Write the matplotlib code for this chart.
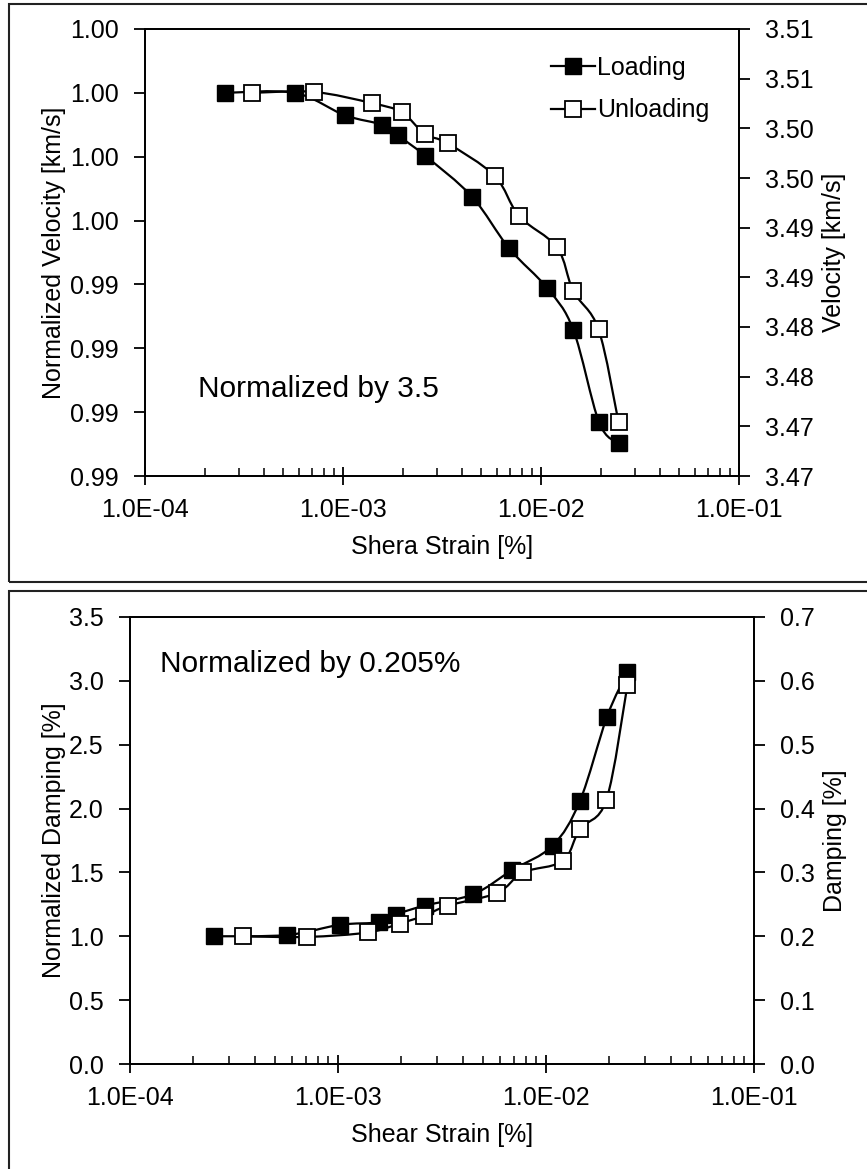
import numpy as np
import matplotlib
matplotlib.use('Agg')
import matplotlib.pyplot as plt
from matplotlib.path import Path
from matplotlib.patches import PathPatch, Rectangle
from matplotlib.lines import Line2D
from matplotlib.ticker import FixedLocator, FuncFormatter, LogLocator, NullFormatter
from decimal import Decimal, ROUND_HALF_UP

plt.rcParams['font.family'] = ['Liberation Sans', 'DejaVu Sans']

# shear strain [%]
strain_load = [2.53e-4, 5.69e-4, 1.02e-3, 1.58e-3, 1.89e-3, 2.61e-3,
               4.48e-3, 6.9e-3, 1.077e-2, 1.456e-2, 1.965e-2, 2.465e-2]
strain_unload = [3.48e-4, 7.1e-4, 1.395e-3, 1.98e-3, 2.59e-3, 3.375e-3,
                 5.83e-3, 7.75e-3, 1.205e-2, 1.456e-2, 1.953e-2, 2.465e-2]

# normalized velocity (by 3.5 km/s)
vel_load = [1.0000, 1.0000, 0.99930, 0.99900, 0.99867, 0.99802,
            0.99675, 0.99513, 0.99388, 0.99258, 0.98968, 0.98902]
vel_unload = [1.0000, 1.00003, 0.99968, 0.99939, 0.99871, 0.99842,
              0.99740, 0.99614, 0.99516, 0.99379, 0.99259, 0.98968]

# normalized damping (by 0.205 %)
damp_load = [1.00, 1.01, 1.09, 1.11, 1.17, 1.24, 1.33, 1.52, 1.71, 2.06, 2.72, 3.07]
damp_unload = [1.00, 0.995, 1.03, 1.10, 1.16, 1.24, 1.34, 1.50, 1.59, 1.84, 2.07, 2.97]

x_ticks = [1e-4, 1e-3, 1e-2, 1e-1]
vel_ticks = np.round(np.arange(0.988, 1.0021, 0.002), 4)
vel_right_ticks = np.round(np.arange(3.465, 3.5101, 0.005), 4)
damp_ticks = np.round(np.arange(0.0, 3.51, 0.5), 2)
damp_right_ticks = np.round(np.arange(0.0, 0.71, 0.1), 2)

FS = 18
W, H = 867, 1169
fig = plt.figure(figsize=(W / 100, H / 100), dpi=100)


def half_up(nd):
    q = Decimal(1).scaleb(-nd)
    return FuncFormatter(lambda v, p: str(Decimal(str(round(v, 6))).quantize(q, rounding=ROUND_HALF_UP)))


def smooth_line(ax, x, y):
    # excel-like smoothed line: catmull-rom bezier in screen space
    to_ax = ax.transScale + ax.transLimits
    bb = ax.get_position()
    sc = np.array([bb.width * W, bb.height * H])
    p = to_ax.transform(np.column_stack([x, y])) * sc
    p = np.vstack([p[0], p, p[-1]])
    verts = [p[1]]
    codes = [Path.MOVETO]
    for i in range(1, len(p) - 2):
        c1 = p[i] + (p[i + 1] - p[i - 1]) / 6
        c2 = p[i + 1] - (p[i + 2] - p[i]) / 6
        verts += [c1, c2, p[i + 1]]
        codes += [Path.CURVE4] * 3
    verts = to_ax.inverted().transform(np.array(verts) / sc)
    ax.add_patch(PathPatch(Path(verts, codes), fill=False, lw=1.6, color='k',
                           transform=ax.transData, zorder=2))


def style(ax, ax2, ticks, rticks, fmt_l, fmt_r):
    ax.set_xscale('log')
    ax.set_xlim(1e-4, 1e-1)
    ax.set_ylim(ticks[0], ticks[-1])
    ax2.set_ylim(rticks[0], rticks[-1])
    ax.xaxis.set_major_locator(FixedLocator(x_ticks))
    ax.xaxis.set_major_formatter(FuncFormatter(lambda v, p: f"{v:.1E}"))
    ax.xaxis.set_minor_locator(LogLocator(base=10, subs=np.arange(2, 10)))
    ax.xaxis.set_minor_formatter(NullFormatter())
    ax.yaxis.set_major_locator(FixedLocator(ticks))
    ax.yaxis.set_major_formatter(fmt_l)
    ax2.yaxis.set_major_locator(FixedLocator(rticks))
    ax2.yaxis.set_major_formatter(fmt_r)
    ax.tick_params(axis='x', which='major', direction='inout', length=13, width=1.3,
                   labelsize=FS, pad=9, top=False)
    ax.tick_params(axis='x', which='minor', direction='in', length=6, width=1.1, top=False)
    ax.tick_params(axis='y', direction='out', length=8, width=1.3, labelsize=FS, pad=11, right=False)
    ax2.tick_params(axis='y', direction='out', length=8, width=1.3, labelsize=FS, pad=11)
    for a in (ax, ax2):
        for s in a.spines.values():
            s.set_linewidth(1.3)


def plot_pair(ax, yl, yu):
    smooth_line(ax, strain_load, yl)
    smooth_line(ax, strain_unload, yu)
    ax.plot(strain_load, yl, ls='none', marker='s', ms=11.5, mfc='k', mec='k', zorder=3)
    ax.plot(strain_unload, yu, ls='none', marker='s', ms=11.5, mfc='white', mec='k',
            mew=1.3, zorder=3)


# ---- top panel: velocity
ax1 = fig.add_axes([145 / W, 1 - 476 / H, 594 / W, 447 / H])
ax1r = ax1.twinx()
style(ax1, ax1r, vel_ticks, vel_right_ticks, half_up(2), half_up(2))
plot_pair(ax1, vel_load, vel_unload)
ax1.set_xlabel('Shera Strain [%]', fontsize=FS)
ax1.set_ylabel('Normalized Velocity [km/s]', fontsize=FS)
ax1r.set_ylabel('Velocity [km/s]', fontsize=FS)
ax1.text(0.089, 0.195, 'Normalized by 3.5', fontsize=21.5, va='center', transform=ax1.transAxes)
hl = [Line2D([], [], color='k', lw=1.6, marker='s', ms=11.5, mfc='k', mec='k'),
      Line2D([], [], color='k', lw=1.6, marker='s', ms=11.5, mfc='white', mec='k', mew=1.3)]
ax1.legend(hl, ['Loading', 'Unloading'], loc='center', bbox_to_anchor=(0.817, 0.866),
           frameon=False, fontsize=FS, handlelength=1.75, handletextpad=0.1,
           labelspacing=0.75, borderpad=0)

# ---- bottom panel: damping
ax2 = fig.add_axes([130 / W, 1 - 1064 / H, 624 / W, 447 / H])
ax2r = ax2.twinx()
style(ax2, ax2r, damp_ticks, damp_right_ticks, half_up(1), half_up(1))
plot_pair(ax2, damp_load, damp_unload)
ax2.set_xlabel('Shear Strain [%]', fontsize=FS)
ax2.set_ylabel('Normalized Damping [%]', fontsize=FS)
ax2r.set_ylabel('Damping [%]', fontsize=FS)
ax2.text(0.048, 0.894, 'Normalized by 0.205%', fontsize=21.5, va='center', transform=ax2.transAxes)

# label positions
for a, xl in ((ax1, -0.154), (ax2, -0.1225)):
    a.xaxis.set_label_coords(0.5, -0.158)
    a.xaxis.label.set_verticalalignment('center')
    a.yaxis.set_label_coords(xl, 0.5)
    a.yaxis.label.set_verticalalignment('center')
for a, xr in ((ax1r, 1.16), (ax2r, 1.13)):
    a.yaxis.set_label_coords(xr, 0.5)
    a.yaxis.label.set_verticalalignment('center')

# chart frames
fig.add_artist(Rectangle((9 / W, 1 - 582 / H), 1.0, 578 / H, transform=fig.transFigure,
                         fill=False, lw=1.5, color='#222222'))
fig.add_artist(Rectangle((9 / W, -0.02), 1.0, 1 - 591 / H + 0.02, transform=fig.transFigure,
                         fill=False, lw=1.5, color='#222222'))

fig.savefig('out.png', dpi=100)
